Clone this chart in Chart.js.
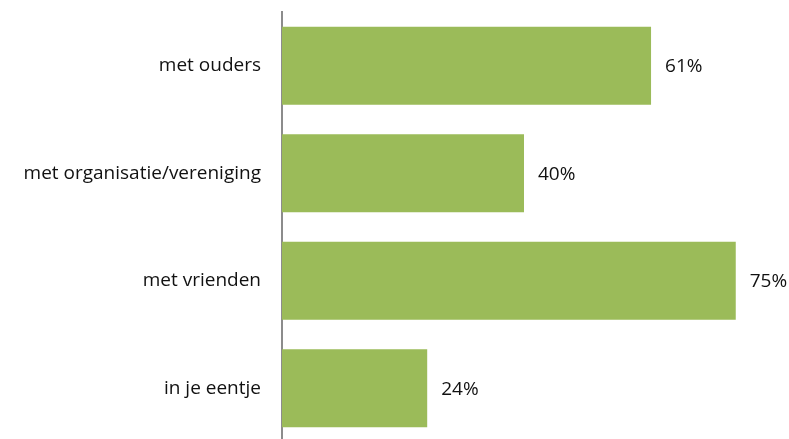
<!DOCTYPE html>
<html>
<head>
<meta charset="utf-8">
<script src="https://cdn.jsdelivr.net/npm/chart.js@4.4.0/dist/chart.umd.min.js"></script>
<style>
  html, body { margin: 0; padding: 0; background: #fff; overflow: hidden; }
</style>
</head>
<body>
<canvas id="chart" width="789" height="442"></canvas>
<script>
const categories = ["met ouders", "met organisatie/vereniging", "met vrienden", "in je eentje"];
const percentages = [61, 40, 75, 24];

const barColor = "#9BBB59";
const fontFamily = "'Open Sans', 'Noto Sans', sans-serif";

// draws the "61%" style labels just right of each bar
const valueLabels = {
  id: "valueLabels",
  afterDatasetsDraw(chart) {
    const ctx = chart.ctx;
    const meta = chart.getDatasetMeta(0);
    ctx.save();
    ctx.font = "19px " + fontFamily;
    ctx.fillStyle = "#111";
    ctx.textAlign = "left";
    ctx.textBaseline = "middle";
    meta.data.forEach(function (bar, i) {
      ctx.fillText(percentages[i] + "%", bar.x + 14, bar.y + 1);
    });
    ctx.restore();
  },
};

const ctx = document.getElementById("chart").getContext("2d");
const chart = new Chart(ctx, {
  type: "bar",
  data: {
    labels: categories,
    datasets: [
      {
        data: percentages,
        backgroundColor: barColor,
        borderWidth: 0,
        barPercentage: 0.727,
        categoryPercentage: 1,
      },
    ],
  },
  options: {
    indexAxis: "y",
    responsive: false,
    animation: false,
    layout: {
      padding: { top: 12, right: 23, bottom: 0, left: 0 },
    },
    plugins: {
      legend: { display: false },
      tooltip: { enabled: false },
    },
    scales: {
      x: {
        display: false,
        min: 0,
        max: 80,
      },
      y: {
        afterFit: function (scale) {
          scale.width = 282;
          // tick padding otherwise adds space above/below the plot
          scale.paddingTop = 0;
          scale.paddingBottom = 0;
        },
        grid: { display: false, drawTicks: false },
        border: { display: true, color: "#8c8c8c", width: 2 },
        ticks: {
          padding: 21,
          color: "#111",
          font: { family: fontFamily, size: 19 },
        },
      },
    },
  },
  plugins: [valueLabels],
});
</script>
</body>
</html>
